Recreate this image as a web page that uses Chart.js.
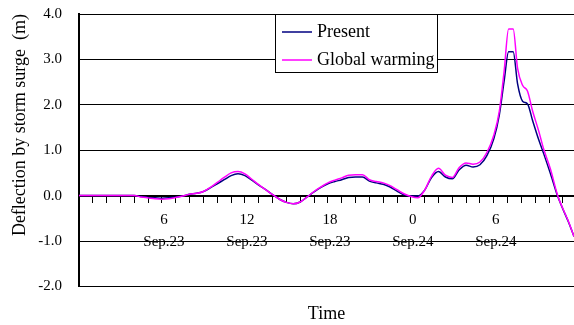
<!DOCTYPE html>
<html>
<head>
<meta charset="utf-8">
<script src="https://cdn.jsdelivr.net/npm/chart.js@4"></script>
<style>
html,body{margin:0;padding:0;background:#fff;}
canvas{display:block;}
</style>
</head>
<body>
<canvas id="c" width="574" height="325"></canvas>
<script>
// ---- data (hours from 0:00 Sep.23) ----
const hours = [0,1,2,3,4,4.5,5,5.5,6,6.5,7,7.5,8,8.5,9,9.5,10,10.5,11,11.5,12,12.5,13,13.5,14,14.5,15,15.5,16,16.5,17,17.5,18,18.5,19,19.5,20,20.5,21,21.5,22,22.5,23,23.5,24,24.5,25,25.5,26,26.5,27,27.5,28,28.5,29,29.5,30,30.4,30.75,31.07,31.4,31.72,32.08,32.44,32.8,33.25,33.6,34.1,34.6,35,35.4,35.8];
const present = [0,0,0,0,0,-0.02,-0.04,-0.05,-0.06,-0.05,-0.03,-0.01,0.03,0.05,0.09,0.17,0.26,0.35,0.44,0.48,0.44,0.34,0.23,0.13,0.02,-0.08,-0.15,-0.18,-0.14,-0.03,0.08,0.18,0.26,0.31,0.35,0.40,0.41,0.41,0.32,0.28,0.25,0.19,0.10,0.02,-0.01,-0.01,0.12,0.40,0.53,0.41,0.37,0.57,0.67,0.63,0.68,0.88,1.25,1.78,2.53,3.17,3.17,2.46,2.08,2.02,1.66,1.23,0.93,0.48,0.0,-0.30,-0.58,-0.90];
const globalWarming = [0,0,0,0,0,-0.03,-0.05,-0.07,-0.08,-0.07,-0.04,-0.01,0.03,0.05,0.09,0.18,0.29,0.40,0.50,0.53,0.48,0.36,0.24,0.13,0.02,-0.08,-0.15,-0.18,-0.14,-0.03,0.09,0.19,0.28,0.34,0.39,0.45,0.46,0.46,0.35,0.31,0.28,0.22,0.13,0.04,-0.02,-0.05,0.12,0.43,0.60,0.45,0.40,0.62,0.72,0.69,0.74,0.95,1.33,1.86,2.75,3.67,3.67,2.80,2.43,2.30,1.87,1.42,1.03,0.58,0.02,-0.29,-0.57,-0.90];
const seriesNames = ['Present', 'Global warming'];
const tickHours = [6, 12, 18, 24, 30];
const tickTimes = ['6', '12', '18', '0', '6'];
const tickDates = ['Sep.23', 'Sep.23', 'Sep.23', 'Sep.24', 'Sep.24'];
const yTitle = 'Deflection by storm surge  (m)';
const xTitle = 'Time';

const FONT = 'Liberation Serif, Times New Roman, serif';
const colors = ['#000080', '#ff00ff'];

const legendPlugin = {
  id: 'boxLegend',
  afterDraw(chart) {
    const ctx = chart.ctx;
    const a = chart.chartArea;
    const x0 = a.left + 196, y0 = a.top, w = 162, h = 58;
    ctx.save();
    ctx.fillStyle = '#fff';
    ctx.fillRect(x0, y0, w, h);
    ctx.strokeStyle = '#000';
    ctx.lineWidth = 1;
    ctx.strokeRect(x0 + 0.5, y0 + 0.5, w, h);
    ctx.font = '18px ' + FONT;
    ctx.textBaseline = 'middle';
    ctx.textAlign = 'left';
    const rows = [18, 46];
    chart.data.datasets.forEach((ds, i) => {
      const yy = y0 + rows[ds.legendRow];
      ctx.strokeStyle = ds.borderColor;
      ctx.lineWidth = 1.5;
      ctx.beginPath();
      ctx.moveTo(x0 + 7, yy);
      ctx.lineTo(x0 + 37, yy);
      ctx.stroke();
      ctx.fillStyle = '#000';
      ctx.fillText(ds.label, x0 + 42, yy);
    });
    ctx.restore();
  }
};

new Chart(document.getElementById('c'), {
  type: 'line',
  data: {
    datasets: [
      {
        label: seriesNames[0], legendRow: 0, order: 1, xAxisID: 'x',
        data: hours.map((h, i) => ({x: h, y: present[i]})),
        borderColor: colors[0], borderWidth: 1.5, pointRadius: 0,
        cubicInterpolationMode: 'monotone', fill: false
      },
      {
        label: seriesNames[1], legendRow: 1, order: 0, xAxisID: 'x',
        data: hours.map((h, i) => ({x: h, y: globalWarming[i]})),
        borderColor: colors[1], borderWidth: 1.5, pointRadius: 0,
        cubicInterpolationMode: 'monotone', fill: false
      }
    ]
  },
  options: {
    responsive: false,
    animation: false,
    devicePixelRatio: 1,
    layout: {padding: {top: 14, right: 0, bottom: 0, left: 0}},
    plugins: {legend: {display: false}, tooltip: {enabled: false}},
    scales: {
      x: {
        type: 'linear',
        position: {y: 0},
        min: 0, max: 35.8,
        grid: {drawOnChartArea: false, drawTicks: true, tickLength: 6, color: '#000', lineWidth: 1},
        border: {display: true, color: '#000', width: 2},
        ticks: {
          stepSize: 1, autoSkip: false, includeBounds: false, maxRotation: 0,
          padding: 8, labelOffset: 2, color: '#000',
          font: {family: FONT, size: 15, lineHeight: 1.43},
          callback: (v) => {
            const k = tickHours.indexOf(v);
            return k >= 0 ? [tickTimes[k], tickDates[k]] : '';
          }
        }
      },
      x2: {
        type: 'linear',
        position: 'bottom',
        min: 0, max: 35.8,
        grid: {display: false, drawTicks: false},
        border: {display: false},
        ticks: {display: false},
        title: {display: true, text: xTitle, color: '#000', font: {family: FONT, size: 18}, padding: {top: 17, bottom: 0}}
      },
      y: {
        min: -2, max: 4,
        afterFit: (s) => { s.width = 79; s.paddingTop = 0; s.paddingBottom = 0; },
        grid: {color: '#000', lineWidth: 1, drawTicks: false},
        border: {display: true, color: '#000', width: 2},
        ticks: {stepSize: 1, padding: 17, color: '#000', font: {family: FONT, size: 15},
          callback: (v) => Number(v).toFixed(1)},
        title: {display: true, text: yTitle, align: 'end', color: '#000', font: {family: FONT, size: 18}, padding: {top: 9, bottom: 0}}
      }
    }
  },
  plugins: [legendPlugin]
});
</script>
</body>
</html>
